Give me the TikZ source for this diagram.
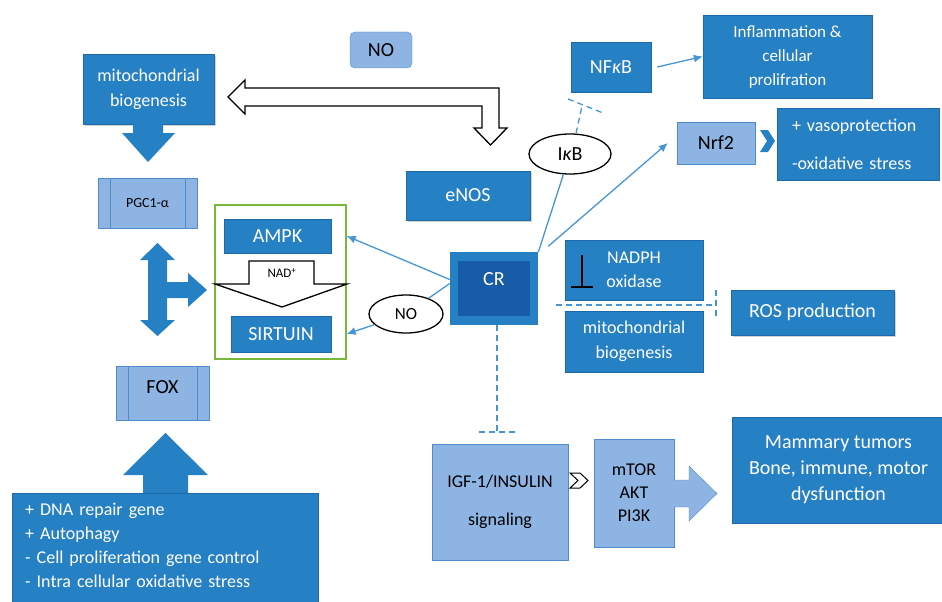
\documentclass[tikz,border=0pt]{standalone}
\usepackage{fontspec}
\setmainfont{Carlito}
\usepackage{tikz}
\usetikzlibrary{shapes}
\usetikzlibrary{shadows}
\usetikzlibrary{arrows.meta}
\definecolor{boxblue}{RGB}{38,128,196}
\definecolor{boxedge}{RGB}{30,105,170}
\definecolor{crdark}{RGB}{24,92,168}
\definecolor{lightblue}{RGB}{141,180,226}
\definecolor{lightedge}{RGB}{79,140,205}
\definecolor{linkblue}{RGB}{70,150,215}
\definecolor{framegreen}{RGB}{120,185,60}
\tikzset{darkbox/.style={rectangle, draw=boxedge, fill=boxblue, text=white, inner sep=0pt, align=center, font=\fontsize{20}{24}\selectfont}}
\tikzset{lightbox/.style={rectangle, draw=lightedge, fill=lightblue, text=black, inner sep=0pt, align=center, font=\fontsize{18}{23}\selectfont}}
\tikzset{process/.style={lightbox, path picture={
  \draw[lightedge] ([xshift=12pt]path picture bounding box.north west) -- ([xshift=12pt]path picture bounding box.south west);
  \draw[lightedge] ([xshift=-12pt]path picture bounding box.north east) -- ([xshift=-12pt]path picture bounding box.south east);}}}
\tikzset{oval/.style={ellipse, draw, line width=1.3pt, fill=white, inner sep=0pt, font=\fontsize{18}{20}\selectfont}}
\tikzset{link/.style={draw=linkblue, line width=1.3pt, -{Latex[length=9pt,width=8pt]}}}
\tikzset{plainlink/.style={draw=linkblue, line width=1.3pt}}
\tikzset{stopline/.style={draw=linkblue, line width=1.3pt, dash pattern=on 6pt off 4pt}}
\tikzset{hollowarrow/.style={draw=black, fill=white, line width=1.3pt, line join=miter}}
\tikzset{shadowed/.style={drop shadow={opacity=.35, shadow xshift=1.5pt, shadow yshift=-2pt}}}

\begin{document}
\begin{tikzpicture}[x=1pt,y=-1pt]
  \useasboundingbox (0,0) rectangle (942,602);

  % left column
  \node[darkbox, shadowed, minimum width=131, minimum height=70, font=\fontsize{18}{25}\selectfont] (mitoL) at (148.5,89) {mitochondrial\\biogenesis};
  \fill[boxblue] (133,123) -- (163,123) -- (163,133) -- (175,133) -- (148,162) -- (122,133) -- (133,133) -- cycle;
  \node[process, minimum width=99, minimum height=50, font=\fontsize{14}{16}\selectfont] (pgc) at (147.5,203) {PGC1-α};
  \fill[boxblue] (157.5,243) -- (175,260) -- (167,260) -- (167,282) -- (188,282) -- (188,273) -- (207,290)
    -- (188,307) -- (188,298) -- (167,298) -- (167,320) -- (175,320) -- (157.5,336) -- (140,320)
    -- (148,320) -- (148,260) -- (140,260) -- cycle;
  \node[process, minimum width=93, minimum height=54, font=\fontsize{20}{24}\selectfont, text height=14pt, text depth=14pt] (fox) at (162.5,393) {FOX};
  \fill[boxblue] (165.5,433) -- (208,475) -- (188,475) -- (188,494) -- (143,494) -- (143,475) -- (123,475) -- cycle;
  \node[darkbox, anchor=north west, align=left, minimum width=306, minimum height=112, text width=280pt, inner xsep=13pt, text depth=79pt, font=\fontsize{18}{24}\selectfont] (repair) at (12,493)
    {+ DNA repair gene\\+ Autophagy\\- Cell proliferation gene control\\- Intra cellular oxidative stress};

  % AMPK / SIRTUIN frame
  \node[draw=framegreen, line width=1.3pt, minimum width=131, minimum height=154] (frame) at (280.5,282) {};
  \foreach \x/\y/\w/\h/\lab/\tx in {
    277.5/236/107/34/ampk/AMPK,
    281/334/100/36/sirt/SIRTUIN,
    611/67/80/50/nfkb/{NF{\itshape κ}B}%
  } {
    \node[darkbox, minimum width=\w, minimum height=\h] (\lab) at (\x,\y) {\tx};
  }
  \draw[hollowarrow] (249,261) -- (314,261) -- (314,284) -- (347,284) -- (282,307) -- (215,284) -- (249,284) -- cycle;
  \node[font=\fontsize{13}{14}\selectfont] (nad) at (282,273) {NAD\textsuperscript{+}};

  % NO / eNOS
  \node[lightbox, rounded corners=5pt, minimum width=62, minimum height=36, font=\fontsize{20}{24}\selectfont] (nobox) at (381,50) {NO};
  \draw[hollowarrow] (228,97) -- (245,80) -- (245,88) -- (499,88) -- (499,128) -- (507,128) -- (490.5,145)
    -- (474,128) -- (482,128) -- (482,106) -- (245,106) -- (245,114) -- cycle;
  \node[darkbox, shadowed, minimum width=124, minimum height=49] (enos) at (468,195.5) {eNOS};

  % CR
  \node[darkbox, fill=crdark, draw=boxblue, line width=8.5pt, minimum width=80, minimum height=64, text height=13pt, text depth=20pt] (cr) at (494,288.5) {CR};
  \node[oval, minimum width=74, minimum height=38, font=\fontsize{17}{20}\selectfont] (noov) at (406,314) {NO};
  \node[oval, minimum width=82, minimum height=40, font=\fontsize{20}{22}\selectfont] (ikb) at (570,154) {I{\itshape κ}B};

  % right side
  \node[darkbox, minimum width=169, minimum height=83, font=\fontsize{17}{24}\selectfont] (inflam) at (787.5,56.5) {Inflammation \&\\cellular\\prolifration};
  \node[lightbox, minimum width=78, minimum height=42, font=\fontsize{20}{24}\selectfont] (nrf) at (716,143) {Nrf2};
  \fill[boxblue] (760,130) -- (768,130) -- (775,141) -- (768,152) -- (760,152) -- (767,141) -- cycle;
  \node[darkbox, align=left, minimum width=162, minimum height=72, text width=132pt, inner xsep=15pt, font=\fontsize{18}{38}\selectfont] (vaso) at (858,144) {+ vasoprotection\\-oxidative stress};
  \node[darkbox, minimum width=138, minimum height=60, font=\fontsize{18}{24}\selectfont] (nadph) at (634,270) {NADPH\\oxidase};
  \draw[line width=1.5pt] (582,255) -- (582,287) (571,287) -- (593,287);
  \node[darkbox, minimum width=138, minimum height=61, font=\fontsize{18}{25}\selectfont] (mitoR) at (634,341.5) {mitochondrial\\biogenesis};
  \node[darkbox, shadowed, minimum width=163, minimum height=45] (ros) at (812.5,312.5) {ROS production};

  % bottom
  \node[lightbox, minimum width=136, minimum height=116, font=\fontsize{18}{38}\selectfont] (igf) at (500,502) {IGF-1/INSULIN\\signaling};
  \draw[draw=black, fill=white, line width=1pt] (570,473) -- (580,473) -- (588,480.5) -- (580,488) -- (570,488) -- (578,480.5) -- cycle;
  \node[lightbox, minimum width=80, minimum height=108, font=\fontsize{18}{23}\selectfont] (mtor) at (634,493) {mTOR\\AKT\\PI3K};
  \draw[draw=lightedge, fill=lightblue] (674,480) -- (689,480) -- (689,466) -- (717,493.5) -- (689,521) -- (689,507) -- (674,507);
  \node[darkbox, minimum width=213, minimum height=106, font=\fontsize{20}{26}\selectfont] (mamm) at (838.5,470) {Mammary tumors\\Bone, immune, motor\\dysfunction};

  % connectors
  \draw[link] ([yshift=9pt]cr.west) -- (frame.east |- ampk.east);
  \draw[plainlink] ([yshift=5pt]cr.west) -- (noov);
  \draw[link] (noov) -- (frame.east |- sirt.east);
  \draw[plainlink] (cr.north east) -- (ikb);
  \draw[link] ([shift={(10pt,6pt)}]cr.north east) -- ([xshift=-9pt]nrf.west);
  \draw[link] ([xshift=6pt]nfkb.east) -- (inflam.west);

  \coordinate (ikbstop) at (582,106);
  \draw[stopline] ([xshift=6pt]ikb.north) -- (ikbstop);
  \draw[stopline] ([shift={(-14,-7)}]ikbstop) -- ([shift={(21,7)}]ikbstop);
  \coordinate (igfstop) at (497,432);
  \draw[stopline] (cr.south -| igfstop) -- (igfstop);
  \draw[stopline] ([xshift=-18pt]igfstop) -- ([xshift=20pt]igfstop);
  \coordinate (rosstop) at (716,305);
  \draw[stopline, shorten <=18pt] (cr.east |- rosstop) -- (rosstop);
  \draw[stopline] ([yshift=15pt]rosstop) -- ([yshift=-12pt]rosstop);
\end{tikzpicture}
\end{document}
